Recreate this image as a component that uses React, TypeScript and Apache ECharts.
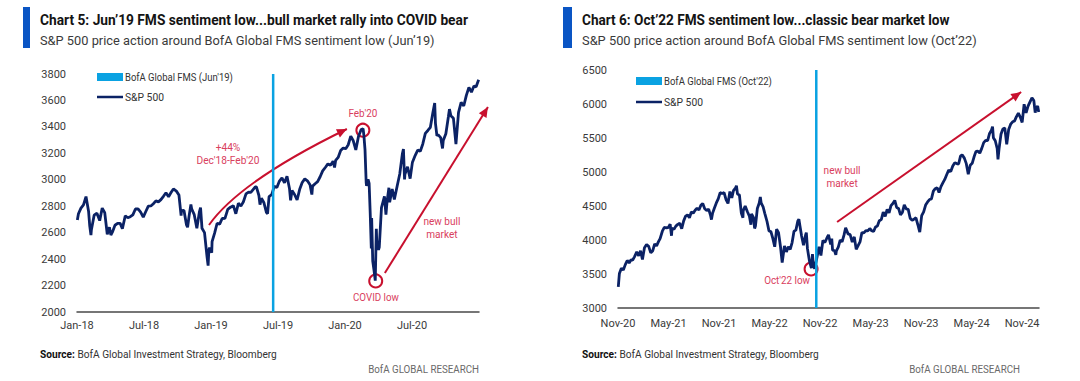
import React, { useEffect, useRef } from "react";
import * as echarts from "echarts";

const FONT = "Roboto, 'Liberation Sans', sans-serif";

// ---------- DATA ----------
const xLabelsLeft = ["Jan-18", "Jul-18", "Jan-19", "Jul-19", "Jan-20", "Jul-20"];
const xLabelsRight = ["Nov-20", "May-21", "Nov-21", "May-22", "Nov-22", "May-23", "Nov-23", "May-24", "Nov-24"];

const fmsDateLeft = "2019-06-18";
const fmsDateRight = "2022-10-18";

const spxLeft: [string, number][] = [
  ["2018-01-02", 2695], ["2018-01-05", 2743], ["2018-01-12", 2786], ["2018-01-19", 2810], ["2018-01-26", 2873],
  ["2018-02-02", 2762], ["2018-02-05", 2649], ["2018-02-08", 2581], ["2018-02-09", 2620], ["2018-02-16", 2732],
  ["2018-02-23", 2747], ["2018-03-02", 2691], ["2018-03-09", 2786], ["2018-03-16", 2752], ["2018-03-23", 2588],
  ["2018-03-29", 2641], ["2018-04-02", 2582], ["2018-04-06", 2604], ["2018-04-13", 2656], ["2018-04-20", 2670],
  ["2018-04-27", 2670], ["2018-05-03", 2630], ["2018-05-11", 2728], ["2018-05-18", 2713], ["2018-05-25", 2721],
  ["2018-06-01", 2735], ["2018-06-08", 2779], ["2018-06-15", 2780], ["2018-06-22", 2755], ["2018-06-29", 2718],
  ["2018-07-06", 2760], ["2018-07-13", 2801], ["2018-07-20", 2802], ["2018-07-27", 2819], ["2018-08-03", 2840],
  ["2018-08-10", 2833], ["2018-08-17", 2850], ["2018-08-24", 2875], ["2018-08-31", 2902], ["2018-09-07", 2872],
  ["2018-09-14", 2905], ["2018-09-20", 2931], ["2018-09-28", 2914], ["2018-10-05", 2885], ["2018-10-11", 2729],
  ["2018-10-12", 2767], ["2018-10-19", 2768], ["2018-10-26", 2658], ["2018-10-29", 2641], ["2018-11-02", 2723],
  ["2018-11-07", 2814], ["2018-11-09", 2781], ["2018-11-16", 2736], ["2018-11-23", 2633], ["2018-11-30", 2760],
  ["2018-12-03", 2790], ["2018-12-07", 2633], ["2018-12-14", 2600], ["2018-12-21", 2417], ["2018-12-24", 2351],
  ["2018-12-26", 2468], ["2018-12-28", 2486],
  ["2019-01-03", 2448], ["2019-01-04", 2532], ["2019-01-11", 2596], ["2019-01-18", 2671], ["2019-01-25", 2665],
  ["2019-02-01", 2707], ["2019-02-08", 2708], ["2019-02-15", 2776], ["2019-02-22", 2793], ["2019-03-01", 2804],
  ["2019-03-08", 2743], ["2019-03-15", 2822], ["2019-03-22", 2801], ["2019-03-29", 2834], ["2019-04-05", 2893],
  ["2019-04-12", 2907], ["2019-04-18", 2905], ["2019-04-30", 2946], ["2019-05-03", 2946], ["2019-05-10", 2881],
  ["2019-05-13", 2812], ["2019-05-17", 2860], ["2019-05-24", 2826], ["2019-05-31", 2752], ["2019-06-03", 2744],
  ["2019-06-07", 2873], ["2019-06-14", 2887], ["2019-06-21", 2950], ["2019-06-28", 2942], ["2019-07-05", 2990],
  ["2019-07-12", 3014], ["2019-07-19", 2977], ["2019-07-26", 3026], ["2019-08-02", 2932], ["2019-08-05", 2844],
  ["2019-08-09", 2919], ["2019-08-16", 2889], ["2019-08-23", 2847], ["2019-08-30", 2926], ["2019-09-06", 2979],
  ["2019-09-13", 3007], ["2019-09-20", 2992], ["2019-09-27", 2962], ["2019-10-02", 2888], ["2019-10-04", 2952],
  ["2019-10-11", 2970], ["2019-10-18", 2986], ["2019-10-25", 3023], ["2019-11-01", 3067], ["2019-11-08", 3093],
  ["2019-11-15", 3120], ["2019-11-22", 3110], ["2019-11-29", 3141], ["2019-12-03", 3093], ["2019-12-06", 3146],
  ["2019-12-13", 3169], ["2019-12-20", 3221], ["2019-12-27", 3240],
  ["2020-01-03", 3235], ["2020-01-10", 3265], ["2020-01-17", 3330], ["2020-01-24", 3295], ["2020-01-31", 3226],
  ["2020-02-07", 3328], ["2020-02-14", 3380], ["2020-02-19", 3386], ["2020-02-21", 3338], ["2020-02-24", 3226],
  ["2020-02-27", 2979], ["2020-02-28", 2954], ["2020-03-03", 3003], ["2020-03-06", 2972], ["2020-03-09", 2747],
  ["2020-03-12", 2481], ["2020-03-13", 2711], ["2020-03-16", 2386], ["2020-03-20", 2305], ["2020-03-23", 2237],
  ["2020-03-26", 2630], ["2020-03-27", 2541], ["2020-04-01", 2471], ["2020-04-03", 2489], ["2020-04-09", 2790],
  ["2020-04-17", 2875], ["2020-04-21", 2737], ["2020-04-24", 2837], ["2020-04-29", 2940], ["2020-05-01", 2831],
  ["2020-05-08", 2930], ["2020-05-14", 2852], ["2020-05-22", 2955], ["2020-05-29", 3044], ["2020-06-05", 3194],
  ["2020-06-08", 3232], ["2020-06-11", 3002], ["2020-06-12", 3041], ["2020-06-19", 3098], ["2020-06-26", 3009],
  ["2020-07-02", 3130], ["2020-07-10", 3185], ["2020-07-17", 3225], ["2020-07-24", 3216], ["2020-07-31", 3271],
  ["2020-08-07", 3351], ["2020-08-14", 3373], ["2020-08-21", 3397], ["2020-08-28", 3508], ["2020-09-02", 3580],
  ["2020-09-04", 3427], ["2020-09-08", 3332], ["2020-09-11", 3341], ["2020-09-18", 3319], ["2020-09-23", 3237],
  ["2020-09-25", 3298], ["2020-10-02", 3348], ["2020-10-09", 3477], ["2020-10-12", 3534], ["2020-10-16", 3484],
  ["2020-10-23", 3465], ["2020-10-30", 3270], ["2020-11-06", 3510], ["2020-11-13", 3585], ["2020-11-20", 3558],
  ["2020-11-27", 3638], ["2020-12-04", 3699], ["2020-12-11", 3663], ["2020-12-18", 3709], ["2020-12-24", 3703],
  ["2020-12-31", 3756],
];

const spxRight: [string, number][] = [
  ["2020-11-02", 3310], ["2020-11-06", 3509], ["2020-11-13", 3585], ["2020-11-20", 3558], ["2020-11-27", 3638],
  ["2020-12-04", 3699], ["2020-12-11", 3663], ["2020-12-18", 3709], ["2020-12-24", 3703], ["2020-12-31", 3756],
  ["2021-01-08", 3825], ["2021-01-15", 3768], ["2021-01-22", 3841], ["2021-01-29", 3714], ["2021-02-05", 3887],
  ["2021-02-12", 3934], ["2021-02-19", 3907], ["2021-02-26", 3811], ["2021-03-05", 3842], ["2021-03-12", 3943],
  ["2021-03-19", 3913], ["2021-03-26", 3975], ["2021-04-01", 4020], ["2021-04-09", 4129], ["2021-04-16", 4185],
  ["2021-04-23", 4180], ["2021-04-30", 4181], ["2021-05-07", 4233], ["2021-05-12", 4063], ["2021-05-14", 4174],
  ["2021-05-21", 4156], ["2021-05-28", 4204], ["2021-06-04", 4230], ["2021-06-11", 4247], ["2021-06-18", 4166],
  ["2021-06-25", 4281], ["2021-07-02", 4352], ["2021-07-09", 4370], ["2021-07-16", 4327], ["2021-07-23", 4412],
  ["2021-07-30", 4395], ["2021-08-06", 4437], ["2021-08-13", 4468], ["2021-08-20", 4442], ["2021-08-27", 4509],
  ["2021-09-03", 4535], ["2021-09-10", 4459], ["2021-09-17", 4433], ["2021-09-24", 4455], ["2021-10-01", 4357],
  ["2021-10-04", 4300], ["2021-10-08", 4391], ["2021-10-15", 4471], ["2021-10-22", 4545], ["2021-10-29", 4605],
  ["2021-11-05", 4697], ["2021-11-12", 4682], ["2021-11-19", 4698], ["2021-11-26", 4595], ["2021-12-03", 4538],
  ["2021-12-10", 4712], ["2021-12-17", 4620], ["2021-12-23", 4725], ["2021-12-31", 4766],
  ["2022-01-03", 4797], ["2022-01-07", 4677], ["2022-01-14", 4662], ["2022-01-21", 4398], ["2022-01-27", 4327],
  ["2022-01-28", 4432], ["2022-02-04", 4500], ["2022-02-11", 4419], ["2022-02-18", 4349], ["2022-02-23", 4225],
  ["2022-02-25", 4385], ["2022-03-04", 4329], ["2022-03-08", 4170], ["2022-03-11", 4204], ["2022-03-18", 4463],
  ["2022-03-25", 4543], ["2022-03-29", 4632], ["2022-04-01", 4546], ["2022-04-08", 4488], ["2022-04-14", 4393],
  ["2022-04-22", 4272], ["2022-04-29", 4132], ["2022-05-06", 4123], ["2022-05-13", 4024], ["2022-05-20", 3901],
  ["2022-05-27", 4158], ["2022-06-03", 4109], ["2022-06-10", 3901], ["2022-06-16", 3667], ["2022-06-17", 3675],
  ["2022-06-24", 3912], ["2022-07-01", 3825], ["2022-07-08", 3899], ["2022-07-15", 3863], ["2022-07-22", 3962],
  ["2022-07-29", 4130], ["2022-08-05", 4145], ["2022-08-12", 4280], ["2022-08-16", 4305], ["2022-08-19", 4228],
  ["2022-08-26", 4058], ["2022-09-02", 3924], ["2022-09-09", 4067], ["2022-09-12", 4110], ["2022-09-16", 3873],
  ["2022-09-23", 3693], ["2022-09-30", 3586], ["2022-10-04", 3791], ["2022-10-07", 3640], ["2022-10-12", 3577],
  ["2022-10-14", 3583], ["2022-10-21", 3753], ["2022-10-28", 3901], ["2022-11-04", 3771], ["2022-11-11", 3993],
  ["2022-11-18", 3965], ["2022-11-25", 4026], ["2022-12-01", 4077], ["2022-12-09", 3934], ["2022-12-13", 4019],
  ["2022-12-16", 3852], ["2022-12-23", 3845], ["2022-12-28", 3783], ["2022-12-30", 3840],
  ["2023-01-06", 3895], ["2023-01-13", 3999], ["2023-01-20", 3973], ["2023-01-27", 4071], ["2023-02-02", 4180],
  ["2023-02-10", 4090], ["2023-02-17", 4079], ["2023-02-24", 3970], ["2023-03-03", 4046], ["2023-03-10", 3862],
  ["2023-03-17", 3917], ["2023-03-24", 3971], ["2023-03-31", 4109], ["2023-04-07", 4105], ["2023-04-14", 4138],
  ["2023-04-21", 4133], ["2023-04-28", 4169], ["2023-05-05", 4136], ["2023-05-12", 4124], ["2023-05-19", 4192],
  ["2023-05-26", 4205], ["2023-06-02", 4282], ["2023-06-09", 4299], ["2023-06-16", 4410], ["2023-06-23", 4348],
  ["2023-06-30", 4450], ["2023-07-07", 4399], ["2023-07-14", 4505], ["2023-07-21", 4536], ["2023-07-28", 4582],
  ["2023-08-04", 4478], ["2023-08-11", 4464], ["2023-08-18", 4370], ["2023-08-25", 4406], ["2023-09-01", 4516],
  ["2023-09-08", 4457], ["2023-09-15", 4450], ["2023-09-22", 4320], ["2023-09-29", 4288], ["2023-10-06", 4308],
  ["2023-10-13", 4327], ["2023-10-20", 4224], ["2023-10-27", 4117], ["2023-11-03", 4358], ["2023-11-10", 4415],
  ["2023-11-17", 4514], ["2023-11-24", 4559], ["2023-12-01", 4595], ["2023-12-08", 4604], ["2023-12-15", 4719],
  ["2023-12-22", 4755], ["2023-12-29", 4770],
  ["2024-01-05", 4697], ["2024-01-12", 4784], ["2024-01-19", 4840], ["2024-01-26", 4891], ["2024-02-02", 4959],
  ["2024-02-09", 5027], ["2024-02-16", 5006], ["2024-02-23", 5089], ["2024-03-01", 5137], ["2024-03-08", 5124],
  ["2024-03-15", 5117], ["2024-03-22", 5234], ["2024-03-28", 5254], ["2024-04-05", 5204], ["2024-04-12", 5123],
  ["2024-04-19", 4967], ["2024-04-26", 5100], ["2024-05-03", 5128], ["2024-05-10", 5223], ["2024-05-17", 5303],
  ["2024-05-24", 5305], ["2024-05-31", 5278], ["2024-06-07", 5347], ["2024-06-14", 5432], ["2024-06-21", 5465],
  ["2024-06-28", 5460], ["2024-07-05", 5567], ["2024-07-12", 5615], ["2024-07-16", 5667], ["2024-07-19", 5505],
  ["2024-07-26", 5459], ["2024-08-02", 5346], ["2024-08-05", 5186], ["2024-08-09", 5344], ["2024-08-16", 5554],
  ["2024-08-23", 5634], ["2024-08-30", 5648], ["2024-09-06", 5408], ["2024-09-13", 5626], ["2024-09-20", 5703],
  ["2024-09-27", 5738], ["2024-10-04", 5751], ["2024-10-11", 5815], ["2024-10-18", 5864], ["2024-10-25", 5808],
  ["2024-11-01", 5729], ["2024-11-08", 5996], ["2024-11-15", 5870], ["2024-11-22", 5969], ["2024-11-29", 6032],
  ["2024-12-06", 6090], ["2024-12-13", 6051], ["2024-12-18", 5872], ["2024-12-20", 5930], ["2024-12-27", 5971],
  ["2024-12-31", 5882],
];

// ---------- HELPERS ----------
function monthIndex(date: string, baseY: number, baseM: number): number {
  const [y, m, d] = date.split("-").map(Number);
  const dim = new Date(y, m, 0).getDate();
  return (y - baseY) * 12 + (m - baseM) + (d - 1) / dim;
}
const miL = (d: string) => monthIndex(d, 2018, 1);
const miR = (d: string) => monthIndex(d, 2020, 11);

const NAVY = "#0B2265";
const FMS_BLUE = "#0AA2E2";
const RED = "#C8102E";
const RED_TEXT = "#D9405E";
const BAR_BLUE = "#0A55C4";

let measureCtx: CanvasRenderingContext2D | null = null;
function measure(text: string, size: number, weight: string) {
  if (!measureCtx) measureCtx = document.createElement("canvas").getContext("2d");
  if (!measureCtx) return text.length * size * 0.5;
  measureCtx.font = `${weight} ${size}px ${FONT}`;
  return measureCtx.measureText(text).width;
}

function xAxisCfg(grid: number, max: number, labels: string[], margin: number) {
  return {
    gridIndex: grid,
    type: "value",
    min: 0,
    max,
    interval: 6,
    axisLine: { onZero: false, lineStyle: { color: "#4a4a4a", width: 1.5 } },
    axisTick: { show: false },
    splitLine: { show: false },
    axisLabel: {
      color: "#3a3a3a",
      fontFamily: FONT,
      fontSize: 11,
      margin,
      showMaxLabel: false,
      formatter: (v: number) => labels[Math.round(v / 6)] ?? "",
    },
  };
}
function yAxisCfg(grid: number, min: number, max: number, interval: number) {
  return {
    gridIndex: grid,
    type: "value",
    min,
    max,
    interval,
    axisLine: { show: false },
    axisTick: { show: false },
    splitLine: { show: false },
    axisLabel: { color: "#3a3a3a", fontFamily: FONT, fontSize: 11, margin: 11, formatter: (v: number) => String(v) },
  };
}

// text squeezed horizontally to a given width (the original uses a condensed face)
function fitTxt(text: string, x: number, y: number, width: number, o: any = {}) {
  const size = o.fontSize ?? 11;
  const weight = o.fontWeight ?? "normal";
  const longest = Math.max(...text.split("\n").map((l) => measure(l, size, weight)));
  const s = width / longest;
  return {
    type: "text",
    x,
    y,
    scaleX: s,
    silent: true,
    style: {
      text,
      fontFamily: FONT,
      fontSize: size,
      fontWeight: weight,
      fill: o.fill ?? "#333",
      align: o.align ?? "left",
      verticalAlign: "middle",
      lineHeight: o.lineHeight,
    },
  };
}

function arrowHead(tip: number[], from: number[], len = 10, half = 4.5) {
  const dx = tip[0] - from[0];
  const dy = tip[1] - from[1];
  const L = Math.hypot(dx, dy) || 1;
  const ux = dx / L, uy = dy / L;
  const bx = tip[0] - ux * len, by = tip[1] - uy * len;
  return {
    type: "polygon",
    silent: true,
    shape: { points: [tip, [bx - uy * half, by + ux * half], [bx + uy * half, by - ux * half]] },
    style: { fill: RED },
  };
}
function circle(c: number[]) {
  return { type: "circle", silent: true, shape: { cx: c[0], cy: c[1], r: 6.5 }, style: { fill: "none", stroke: RED, lineWidth: 2 } };
}

export default function App() {
  const ref = useRef<HTMLDivElement>(null);
  useEffect(() => {
    document.body.style.margin = "0";
    if (!ref.current) return;
    const chart = echarts.init(ref.current, null, { renderer: "svg" });
    const fmsL = miL(fmsDateLeft);
    const fmsR = miR(fmsDateRight);
    chart.setOption({
      animation: false,
      backgroundColor: "#ffffff",
      grid: [
        { left: 77, top: 74, width: 402, height: 238 },
        { left: 618, top: 70, width: 421, height: 238 },
      ],
      xAxis: [xAxisCfg(0, 36, xLabelsLeft, 8), xAxisCfg(1, 50, xLabelsRight, 10)],
      yAxis: [yAxisCfg(0, 2000, 3800, 200), yAxisCfg(1, 3000, 6500, 500)],
      series: [
        {
          name: "S&P 500", type: "line", xAxisIndex: 0, yAxisIndex: 0, symbol: "none", z: 2,
          data: spxLeft.map(([d, v]) => [miL(d), v]),
          lineStyle: { color: NAVY, width: 2.8 },
        },
        {
          name: "BofA Global FMS (Jun'19)", type: "line", xAxisIndex: 0, yAxisIndex: 0, symbol: "none", z: 3,
          data: [[fmsL, 2000], [fmsL, 3800]],
          lineStyle: { color: FMS_BLUE, width: 2.5 },
        },
        {
          name: "S&P 500 ", type: "line", xAxisIndex: 1, yAxisIndex: 1, symbol: "none", z: 2,
          data: spxRight.map(([d, v]) => [miR(d), v]),
          lineStyle: { color: NAVY, width: 2.8 },
        },
        {
          name: "BofA Global FMS (Oct'22)", type: "line", xAxisIndex: 1, yAxisIndex: 1, symbol: "none", z: 3,
          data: [[fmsR, 3000], [fmsR, 6500]],
          lineStyle: { color: FMS_BLUE, width: 2.5 },
        },
      ],
    });

    const pL = (x: number, y: number) => chart.convertToPixel({ gridIndex: 0 } as any, [x, y]) as number[];
    const pR = (x: number, y: number) => chart.convertToPixel({ gridIndex: 1 } as any, [x, y]) as number[];

    // left annotations (data coordinates)
    const cS = pL(11.82, 2658), cC = pL(14.6, 2990), cE = pL(24.17, 3384);
    const aS = pL(27.57, 2295), aE = pL(36.8, 3550);
    const peak = pL(25.6, 3375), low = pL(26.75, 2235);
    const tFeb = pL(25.6, 3505), t44 = pL(13.52, 3195), tCovid = pL(26.77, 2113), tBullL = pL(32.68, 2635);
    // right annotations
    const rLow = pR(22.93, 3574), tOct = pR(20.08, 3412), tBullR = pR(26.61, 4926);
    const rS = pR(26.02, 4265), rE = pR(47.88, 6176);

    const legend = (x: number, y1: number, y2: number, label: string) => [
      { type: "rect", silent: true, shape: { x, y: y1 - 4, width: 26, height: 8 }, style: { fill: FMS_BLUE } },
      fitTxt(label, x + 28, y1, 108, { fontSize: 11 }),
      { type: "line", silent: true, shape: { x1: x, y1: y2, x2: x + 26, y2: y2 }, style: { stroke: NAVY, lineWidth: 2.5 } },
      fitTxt("S&P 500", x + 28, y2, 39, { fontSize: 11 }),
    ];

    const source = (x: number) => {
      const size = 10.5;
      const w1 = measure("Source:", size, "bold");
      const w2 = measure(" BofA Global Investment Strategy, Bloomberg", size, "normal");
      const s = 237 / (w1 + w2);
      return [
        { type: "text", x, y: 354, scaleX: s, silent: true,
          style: { text: "Source:", fontFamily: FONT, fontSize: size, fontWeight: "bold", fill: "#111", verticalAlign: "middle" } },
        { type: "text", x: x + w1 * s, y: 354, scaleX: s, silent: true,
          style: { text: " BofA Global Investment Strategy, Bloomberg", fontFamily: FONT, fontSize: size, fill: "#333", verticalAlign: "middle" } },
      ];
    };

    const header = (barX: number, barW: number, tx: number, title: string, titleW: number, sub: string, brandX: number) => [
      { type: "rect", silent: true, shape: { x: barX, y: 7, width: barW, height: 41 }, style: { fill: BAR_BLUE } },
      fitTxt(title, tx, 20, titleW, { fontSize: 15.5, fontWeight: "bold", fill: "#141414" }),
      fitTxt(sub, tx, 40, 395, { fontSize: 13.5, fill: "#3a3a3a" }),
      ...source(tx),
      fitTxt("BofA GLOBAL RESEARCH", brandX, 369, 111, { fontSize: 10.5, fill: "#6a6a6a", align: "right" }),
    ];

    chart.setOption({
      graphic: [
        ...header(23, 7, 40, "Chart 5: Jun’19 FMS sentiment low...bull market rally into COVID bear", 428,
          "S&P 500 price action around BofA Global FMS sentiment low (Jun’19)", 479),
        ...header(563, 9, 582, "Chart 6: Oct’22 FMS sentiment low...classic bear market low", 368,
          "S&P 500 price action around BofA Global FMS sentiment low (Oct’22)", 1020),
        ...legend(97, 77, 97, "BofA Global FMS (Jun'19)"),
        ...legend(636, 81, 102, "BofA Global FMS (Oct'22)"),
        // left chart annotations
        {
          type: "bezierCurve", silent: true,
          shape: { x1: cS[0], y1: cS[1], cpx1: cC[0], cpy1: cC[1], x2: cE[0], y2: cE[1] },
          style: { stroke: RED, lineWidth: 2, fill: "none" },
        },
        arrowHead(cE, cC),
        { type: "line", silent: true, shape: { x1: aS[0], y1: aS[1], x2: aE[0], y2: aE[1] }, style: { stroke: RED, lineWidth: 2 } },
        arrowHead(aE, aS),
        circle(peak),
        circle(low),
        fitTxt("Feb'20", tFeb[0], tFeb[1], 29, { fontSize: 11, fill: RED_TEXT, align: "center" }),
        fitTxt("+44%\nDec'18-Feb'20", t44[0], t44[1], 63, { fontSize: 11, fill: RED_TEXT, align: "center", lineHeight: 13 }),
        fitTxt("COVID low", tCovid[0], tCovid[1], 46, { fontSize: 11, fill: RED_TEXT, align: "center" }),
        fitTxt("new bull\nmarket", tBullL[0], tBullL[1], 37, { fontSize: 11, fill: RED_TEXT, align: "center", lineHeight: 13 }),
        // right chart annotations
        circle(rLow),
        fitTxt("Oct'22 low", tOct[0], tOct[1], 46, { fontSize: 11, fill: RED_TEXT, align: "center" }),
        fitTxt("new bull\nmarket", tBullR[0], tBullR[1], 37, { fontSize: 11, fill: RED_TEXT, align: "center", lineHeight: 13 }),
        { type: "line", silent: true, shape: { x1: rS[0], y1: rS[1], x2: rE[0], y2: rE[1] }, style: { stroke: RED, lineWidth: 2 } },
        arrowHead(rE, rS),
      ],
    });
    return () => chart.dispose();
  }, []);
  return <div ref={ref} style={{ position: "absolute", left: 0, top: 0, width: 1080, height: 381 }} />;
}
